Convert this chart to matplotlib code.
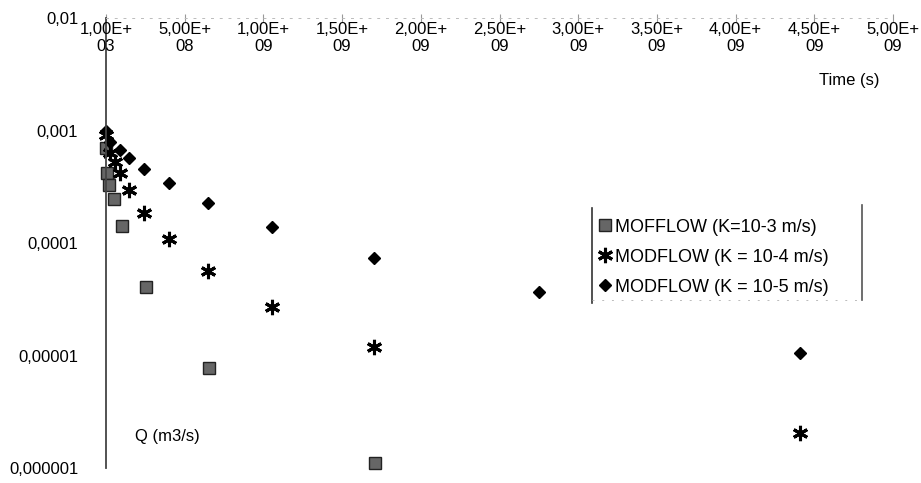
import matplotlib.pyplot as plt
from matplotlib.lines import Line2D

plt.rcParams['font.family'] = ['Liberation Sans', 'DejaVu Sans']

# Data (time in s, discharge in m3/s)
t_k3 = [1e3, 5e6, 2e7, 5.1e7, 1.02e8, 2.54e8, 6.54e8, 1.71e9]
q_k3 = [7.0e-4, 4.2e-4, 3.3e-4, 2.46e-4, 1.42e-4, 4.06e-5, 7.7e-6, 1.1e-6]

t_k4 = [1e3, 2.5e7, 5.7e7, 8.9e7, 1.46e8, 2.41e8, 4.0e8, 6.48e8, 1.055e9, 1.70e9, 4.41e9]
q_k4 = [9.1e-4, 6.3e-4, 5.2e-4, 4.2e-4, 2.93e-4, 1.86e-4, 1.09e-4, 5.6e-5, 2.7e-5, 1.19e-5, 2.05e-6]

t_k5 = [1e3, 2.5e7, 8.9e7, 1.46e8, 2.41e8, 4.0e8, 6.48e8, 1.055e9, 1.70e9, 2.75e9, 4.41e9]
q_k5 = [1.0e-3, 7.9e-4, 6.7e-4, 5.7e-4, 4.55e-4, 3.44e-4, 2.27e-4, 1.39e-4, 7.4e-5, 3.67e-5, 1.05e-5]

x_ticks = [1e3, 5e8, 1e9, 1.5e9, 2e9, 2.5e9, 3e9, 3.5e9, 4e9, 4.5e9, 5e9]
x_labels = ['1,00E+\n03', '5,00E+\n08', '1,00E+\n09', '1,50E+\n09', '2,00E+\n09', '2,50E+\n09',
            '3,00E+\n09', '3,50E+\n09', '4,00E+\n09', '4,50E+\n09', '5,00E+\n09']
y_ticks = [1e-2, 1e-3, 1e-4, 1e-5, 1e-6]
y_labels = ['0,01', '0,001', '0,0001', '0,00001', '0,000001']

fs = 12

fig = plt.figure(figsize=(9.21, 4.83), dpi=100)
ax = fig.add_axes([106 / 921, 1 - 468 / 483, (893 - 106) / 921, (468 - 18) / 483])

ax.plot(t_k3, q_k3, linestyle='none', marker='s', markersize=9, markerfacecolor='#666666',
        markeredgecolor='#222222', markeredgewidth=1, label='MOFFLOW (K=10-3 m/s)', clip_on=False)
ax.plot(t_k4, q_k4, linestyle='none', marker=(6, 2, 0), markersize=11, markeredgewidth=2.2,
        color='black', label='MODFLOW (K = 10-4 m/s)', clip_on=False)
ax.plot(t_k5, q_k5, linestyle='none', marker='D', markersize=6.5, color='black',
        label='MODFLOW (K = 10-5 m/s)', clip_on=False)

ax.set_yscale('log')
ax.set_ylim(1e-6, 1e-2)
ax.set_xlim(0, 5e9)

ax.set_yticks(y_ticks)
ax.set_yticklabels(y_labels)
ax.minorticks_off()
ax.tick_params(axis='y', length=0, pad=20, labelsize=fs)

# x axis sits on top, labels drawn just under it
ax.set_xticks(x_ticks)
ax.set_xticklabels([])
ax.tick_params(axis='x', top=True, bottom=False, direction='inout', length=6, color='#999999', width=0.8)
for xt, lab in zip(x_ticks, x_labels):
    ax.text(xt, 0.992, lab, transform=ax.get_xaxis_transform(), ha='center', va='top',
            fontsize=fs, linespacing=1.2)

for s in ['right', 'bottom']:
    ax.spines[s].set_visible(False)
ax.spines['top'].set_color('#bbbbbb')
ax.spines['top'].set_linestyle((0, (2, 7)))
ax.spines['top'].set_linewidth(0.7)
ax.spines['left'].set_color('#444444')
ax.spines['left'].set_linewidth(1.3)

ax.text(0.983, 0.862, 'Time (s)', transform=ax.transAxes, ha='right', va='center', fontsize=fs)
ax.text(0.037, 0.07, 'Q (m3/s)', transform=ax.transAxes, ha='left', va='center', fontsize=fs)

leg = ax.legend(loc='center left', bbox_to_anchor=(592 / 921, 1 - 302 / 483, 270 / 921, 90 / 483),
                bbox_transform=fig.transFigure, fontsize=13, frameon=True,
                fancybox=False, handletextpad=0.1, handlelength=0.9, borderaxespad=0,
                labelspacing=0.72, borderpad=0.25)
leg.get_frame().set_edgecolor('none')
fig.add_artist(Line2D([592 / 921] * 2, [1 - 208 / 483, 1 - 303 / 483], color='#333333', lw=1.2))
fig.add_artist(Line2D([862 / 921] * 2, [1 - 205 / 483, 1 - 300 / 483], color='#555555', lw=1.2))
fig.add_artist(Line2D([592 / 921, 862 / 921], [1 - 300 / 483] * 2, color='#bbbbbb', lw=0.7,
                      linestyle=(0, (2, 8))))

fig.savefig('out.png', dpi=100)
